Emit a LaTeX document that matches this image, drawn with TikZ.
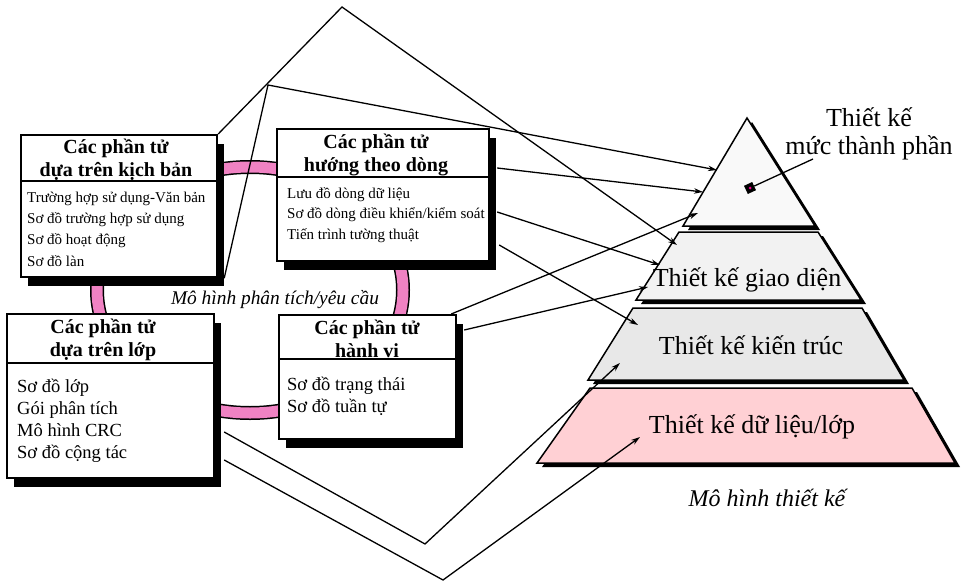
\documentclass[tikz,border=0pt]{standalone}
\usepackage{fontspec}
\setmainfont{Liberation Serif}
\usetikzlibrary{shadows,calc,arrows.meta}
\definecolor{ringpink}{RGB}{240,130,195}
\definecolor{lvlpink}{RGB}{255,208,212}
\definecolor{lvlA}{RGB}{249,249,249}
\definecolor{lvlB}{RGB}{242,242,242}
\definecolor{lvlC}{RGB}{232,232,232}
\begin{document}
\begin{tikzpicture}[x=1pt,y=-1pt,
  box/.style={draw, line width=2.2pt, fill=white, anchor=north west, inner sep=0pt,
    general shadow={fill=black, shadow xshift=7pt, shadow yshift=-9pt}},
  sep/.style={line width=2pt},
  head/.style={font=\bfseries\fontsize{20}{23}\selectfont, align=center, inner sep=0pt},
  body/.style={font=\fontsize{15}{21.3}\selectfont, align=left, anchor=west, inner sep=0pt},
  bigbody/.style={font=\fontsize{18.5}{22}\selectfont, align=left, anchor=west, inner sep=0pt},
  conn/.style={line width=1.3pt, -{Stealth[length=9pt,width=5.5pt]}},
  plain/.style={line width=1.3pt},
  lvl/.style={draw, line width=1.5pt, general shadow={fill=black, shadow xshift=5pt, shadow yshift=-4pt}},
  lvltext/.style={font=\fontsize{26}{28}\selectfont, inner sep=0pt},
  captxt/.style={font=\itshape\fontsize{24}{26}\selectfont, inner sep=0pt},
  ]
\useasboundingbox (0,0) rectangle (968,583);

% analysis model ring
\draw[line width=14pt] (250,290) ellipse [x radius=153pt, y radius=123pt];
\draw[ringpink, line width=11pt] (250,290) ellipse [x radius=153pt, y radius=123pt];
\node[captxt, font=\itshape\fontsize{19.4}{22}\selectfont] (anl) at (275,300) {Mô hình phân tích/yêu cầu};

% boxes
\node[box, minimum width=196pt, minimum height=142pt] (A) at (20,134) {};
\draw[sep] ($(A.north west)+(0,47)$) -- ($(A.north east)+(0,47)$);
\node[head] (Ah) at (116,160) {Các phần tử\\dựa trên kịch bản};
\node[body] (Ab) at (27,229) {Trường hợp sử dụng-Văn bản\\Sơ đồ trường hợp sử dụng\\Sơ đồ hoạt động\\Sơ đồ làn};

\node[box, minimum width=212pt, minimum height=132pt] (B) at (276,128) {};
\draw[sep] ($(B.north west)+(0,49)$) -- ($(B.north east)+(0,49)$);
\node[head] (Bh) at (376,155) {Các phần tử\\hướng theo dòng};
\node[body, font=\fontsize{15}{20.5}\selectfont] (Bb) at (287,215) {Lưu đồ dòng dữ liệu\\Sơ đồ dòng điều khiển/kiểm soát\\Tiến trình tường thuật};

\node[box, minimum width=207pt, minimum height=164pt] (C) at (6,313) {};
\draw[sep] ($(C.north west)+(0,50)$) -- ($(C.north east)+(0,50)$);
\node[head] (Ch) at (103,340) {Các phần tử\\dựa trên lớp};
\node[bigbody] (Cb) at (17,421) {Sơ đồ lớp\\Gói phân tích\\Mô hình CRC\\Sơ đồ cộng tác};

\node[box, minimum width=177pt, minimum height=124pt] (D) at (278,314) {};
\draw[sep] ($(D.north west)+(0,45)$) -- ($(D.north east)+(0,45)$);
\node[head] (Dh) at (367,339) {Các phần tử\\hành vi};
\node[bigbody] (Db) at (287,396) {Sơ đồ trạng thái\\Sơ đồ tuần tự};

% design pyramid
\path[lvl, fill=lvlA] (747,118) -- (815,226) -- (683,226) -- cycle;
\path[lvl, fill=lvlB] (679,232) -- (818,232) -- (861,300) -- (636,300) -- cycle;
\path[lvl, fill=lvlC] (633,308) -- (862,308) -- (904,380) -- (588,380) -- cycle;
\path[lvl, fill=lvlpink] (590,388) -- (912,388) -- (955,463) -- (537,463) -- cycle;

\node[lvltext] (L2) at (747,280) {Thiết kế giao diện};
\node[lvltext] (L3) at (751,345) {Thiết kế kiến trúc};
\node[lvltext] (L4) at (752,427) {Thiết kế dữ liệu/lớp};
\node[lvltext, align=center] (L1) at (869,134) {Thiết kế\\mức thành phần};
\node[captxt] (dsg) at (767,498) {Mô hình thiết kế};

\node[fill=black, rotate=25, minimum size=9pt, inner sep=0pt] (mk) at (750,188) {};
\fill[magenta] (mk.center) circle (1.5pt);
\coordinate (lp) at (813,159);
\draw[plain] (mk) -- (lp);

% targets
\coordinate (t1) at (717,170);
\coordinate (t2) at (703,192);
\coordinate (t3) at (698,213);
\coordinate (t4) at (677,245);
\coordinate (t5) at (660,265);
\coordinate (t6) at (648,287);
\coordinate (t7) at (638,325);
\coordinate (t8) at (620,363);
\coordinate (t9) at (640,437);
\coordinate (p1) at (342,7);
\coordinate (p2) at (268,85);
\coordinate (p3) at (425,544);
\coordinate (p4) at (443,580);

% connectors
\draw[conn] (A.north east) -- (p1) -- (t4);
\draw[conn] ($(A.south east)+(6,0)$) -- (p2) -- (t1);
\draw[conn] ($(B.north east)+(7,40)$) -- (t2);
\draw[conn] ($(B.north east)+(7,84)$) -- (t5);
\draw[conn] ($(B.north east)+(9,117)$) -- (t7);
\draw[conn] ($(D.north east)+(-6,0)$) -- (t3);
\draw[conn] ($(D.north east)+(7,16)$) -- (t6);
\draw[conn] ($(C.north east)+(9,119)$) -- (p3) -- (t8);
\draw[conn] ($(C.north east)+(9,147)$) -- (p4) -- (t9);
\end{tikzpicture}
\end{document}
